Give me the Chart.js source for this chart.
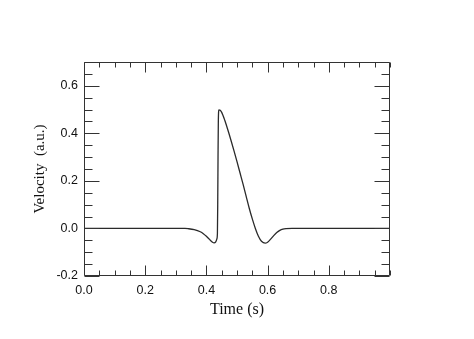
<!DOCTYPE html>
<html>
<head>
<meta charset="utf-8">
<script src="https://cdn.jsdelivr.net/npm/chart.js@4/dist/chart.umd.min.js"></script>
<style>
  html, body { margin: 0; padding: 0; background: #ffffff; }
  #wrap { width: 474px; height: 339px; }
</style>
</head>
<body>
<div id="wrap"><canvas id="c" width="474" height="339"></canvas></div>
<script>
const timeS = [0, 0.05, 0.10, 0.15, 0.20, 0.25, 0.30, 0.33, 0.34, 0.36, 0.38, 0.39, 0.40, 0.41, 0.42, 0.425, 0.43, 0.434, 0.436, 0.437, 0.438, 0.439, 0.441, 0.445, 0.45, 0.46, 0.47, 0.48, 0.49, 0.50, 0.51, 0.52, 0.53, 0.54, 0.55, 0.56, 0.57, 0.58, 0.592, 0.60, 0.61, 0.62, 0.63, 0.64, 0.65, 0.66, 0.68, 0.70, 0.80, 0.90, 1.00];
const velocity = [0, 0, 0, 0, 0, 0, 0, 0, -0.001, -0.005, -0.014, -0.022, -0.033, -0.046, -0.058, -0.061, -0.058, -0.045, -0.02, 0.10, 0.30, 0.45, 0.499, 0.497, 0.488, 0.455, 0.415, 0.372, 0.327, 0.281, 0.233, 0.185, 0.135, 0.085, 0.04, 0.0, -0.033, -0.054, -0.062, -0.058, -0.045, -0.03, -0.017, -0.008, -0.003, -0.001, 0, 0, 0, 0, 0];
const xTicks = [0.0, 0.2, 0.4, 0.6, 0.8];
const yTicks = [-0.2, 0.0, 0.2, 0.4, 0.6];
const xMinorStep = 0.05;
const yMinorStep = 0.05;

const points = timeS.map((t, i) => ({ x: t, y: velocity[i] }));

const fmt = v => (Math.abs(v) < 1e-9 ? 0 : v).toFixed(1);

const boxTicks = {
  id: 'boxTicks',
  afterDraw(chart) {
    const { ctx, chartArea: a, scales: { x, y } } = chart;
    ctx.save();
    ctx.strokeStyle = '#333333';
    ctx.lineWidth = 1;
    ctx.beginPath();
    const L = Math.round(a.left) + 0.5, R = Math.round(a.right) - 0.5;
    const T = Math.round(a.top) + 0.5, B = Math.round(a.bottom) - 0.5;
    ctx.rect(L, T, R - L, B - T);
    const isMajor = (v, arr) => arr.some(m => Math.abs(m - v) < 1e-6);
    for (let v = x.min; v <= x.max + 1e-9; v += xMinorStep) {
      const px = Math.round(x.getPixelForValue(v)) + 0.5;
      const len = isMajor(v, xTicks) ? 10 : 5;
      ctx.moveTo(px, B); ctx.lineTo(px, B - len);
      ctx.moveTo(px, T); ctx.lineTo(px, T + len);
    }
    for (let v = y.min; v <= y.max + 1e-9; v += yMinorStep) {
      const py = Math.round(y.getPixelForValue(v)) + 0.5;
      const len = isMajor(v, yTicks) ? 15 : 8;
      ctx.moveTo(L, py); ctx.lineTo(L + len, py);
      ctx.moveTo(R, py); ctx.lineTo(R - len, py);
    }
    ctx.stroke();
    ctx.restore();
  }
};

new Chart(document.getElementById('c'), {
  type: 'line',
  data: {
    datasets: [{
      data: points,
      borderColor: '#2a2a2a',
      borderWidth: 1.3,
      pointRadius: 0,
      cubicInterpolationMode: 'monotone',
      fill: false
    }]
  },
  options: {
    responsive: false,
    animation: false,
    layout: { padding: { left: 0, top: 62, right: 84, bottom: 0 } },
    plugins: { legend: { display: false }, tooltip: { enabled: false } },
    scales: {
      x: {
        type: 'linear',
        min: 0, max: 1.0,
        afterBuildTicks: s => { s.ticks = xTicks.map(v => ({ value: v })); },
        afterFit: s => { s.height = 63; },
        grid: { display: false, drawTicks: false },
        border: { display: false },
        ticks: {
          autoSkip: false, maxRotation: 0, padding: 7,
          color: '#111111',
          font: { family: 'Liberation Sans', size: 12.5 },
          callback: v => fmt(v)
        },
        title: {
          display: true, text: 'Time (s)', color: '#111111',
          font: { family: 'Liberation Serif', size: 16 },
          padding: { top: 0, bottom: 20 }
        }
      },
      y: {
        type: 'linear',
        min: -0.2, max: 0.7,
        afterBuildTicks: s => { s.ticks = yTicks.map(v => ({ value: v })); },
        afterFit: s => { s.width = 84; },
        grid: { display: false, drawTicks: false },
        border: { display: false },
        ticks: {
          autoSkip: false, padding: 6,
          color: '#111111',
          font: { family: 'Liberation Sans', size: 12.5 },
          callback: v => fmt(v)
        },
        title: {
          display: true, text: 'Velocity  (a.u.)', color: '#111111',
          font: { family: 'Liberation Serif', size: 15 },
          padding: { top: 31, bottom: 0 }
        }
      }
    }
  },
  plugins: [boxTicks]
});
</script>
</body>
</html>
